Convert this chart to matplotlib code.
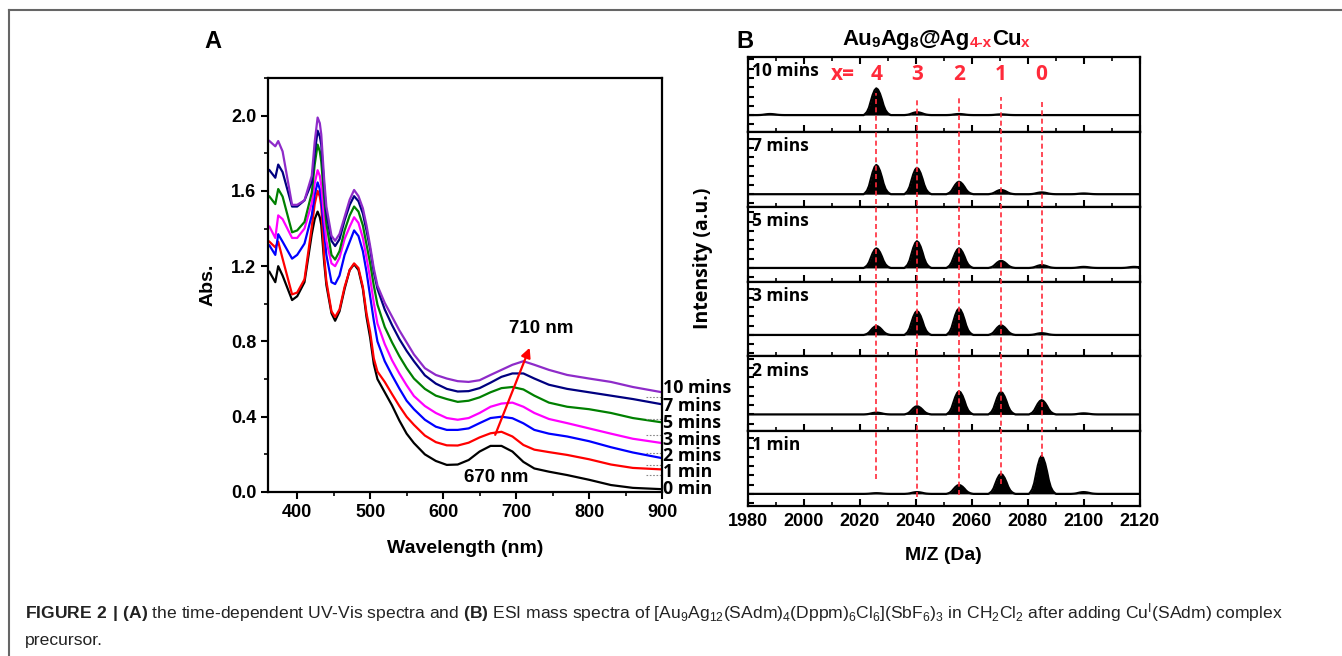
import matplotlib
matplotlib.use("Agg")
import matplotlib.pyplot as plt
from matplotlib.ticker import MultipleLocator
from matplotlib.lines import Line2D

# ---------------- panel A: UV-Vis spectra ----------------
wavelength = [362, 370, 374, 380, 393, 400, 410, 420, 424, 428, 431, 433, 437, 440, 447, 452, 458, 465,
              472, 478, 484, 490, 495, 500, 505, 510, 520, 530, 540, 550, 560, 575, 590,
              605, 620, 635, 650, 665, 680, 695, 710, 725, 745, 770, 800, 830, 860, 900]

abs_0min = [1.17, 1.115, 1.20, 1.15, 1.02, 1.04, 1.115, 1.37, 1.45, 1.49, 1.46, 1.42, 1.22, 1.10, 0.95, 0.91, 0.96, 1.08,
            1.18, 1.21, 1.18, 1.08, 0.93, 0.82, 0.68, 0.60, 0.53, 0.46, 0.38, 0.31, 0.26, 0.20, 0.165,
            0.144, 0.146, 0.17, 0.215, 0.245, 0.245, 0.215, 0.16, 0.125, 0.108, 0.09, 0.065, 0.037, 0.022, 0.015]
abs_1min = [1.33, 1.30, 1.33, 1.24, 1.05, 1.06, 1.13, 1.41, 1.53, 1.60, 1.57, 1.52, 1.25, 1.12, 0.96, 0.93, 0.97, 1.09,
            1.18, 1.215, 1.19, 1.09, 0.95, 0.85, 0.71, 0.64, 0.585, 0.52, 0.457, 0.40, 0.357, 0.30, 0.265,
            0.248, 0.247, 0.262, 0.29, 0.312, 0.32, 0.295, 0.25, 0.225, 0.212, 0.197, 0.174, 0.146, 0.128, 0.12]
abs_2min = [1.31, 1.26, 1.37, 1.33, 1.24, 1.26, 1.32, 1.47, 1.58, 1.645, 1.61, 1.55, 1.38, 1.26, 1.115, 1.105, 1.15, 1.26,
            1.33, 1.39, 1.36, 1.28, 1.17, 1.04, 0.91, 0.80, 0.695, 0.62, 0.55, 0.485, 0.44, 0.384, 0.347,
            0.33, 0.33, 0.338, 0.366, 0.393, 0.40, 0.392, 0.365, 0.33, 0.31, 0.295, 0.27, 0.238, 0.21, 0.18]
abs_3min = [1.41, 1.35, 1.47, 1.45, 1.35, 1.35, 1.40, 1.535, 1.64, 1.71, 1.68, 1.63, 1.45, 1.335, 1.215, 1.20, 1.245, 1.345,
            1.41, 1.46, 1.43, 1.35, 1.245, 1.135, 1.005, 0.895, 0.786, 0.70, 0.63, 0.567, 0.51, 0.457, 0.42,
            0.393, 0.384, 0.393, 0.42, 0.453, 0.47, 0.475, 0.453, 0.42, 0.388, 0.366, 0.338, 0.31, 0.283, 0.26]
abs_5min = [1.57, 1.53, 1.61, 1.57, 1.38, 1.39, 1.435, 1.59, 1.74, 1.846, 1.81, 1.755, 1.56, 1.426, 1.26, 1.235, 1.28, 1.39,
            1.47, 1.517, 1.49, 1.417, 1.316, 1.215, 1.097, 0.996, 0.877, 0.795, 0.722, 0.658, 0.603, 0.548, 0.512,
            0.494, 0.479, 0.485, 0.503, 0.53, 0.552, 0.558, 0.545, 0.512, 0.475, 0.453, 0.44, 0.42, 0.393, 0.37]
abs_7min = [1.71, 1.67, 1.74, 1.70, 1.517, 1.517, 1.55, 1.645, 1.80, 1.92, 1.89, 1.846, 1.62, 1.48, 1.335, 1.307, 1.343, 1.444,
            1.526, 1.572, 1.545, 1.48, 1.39, 1.29, 1.17, 1.08, 0.97, 0.887, 0.813, 0.75, 0.695, 0.62, 0.576,
            0.548, 0.534, 0.536, 0.552, 0.581, 0.612, 0.63, 0.63, 0.603, 0.57, 0.548, 0.53, 0.512, 0.494, 0.466]
abs_10min = [1.865, 1.837, 1.865, 1.81, 1.526, 1.526, 1.55, 1.68, 1.86, 1.99, 1.96, 1.90, 1.66, 1.517, 1.362, 1.335, 1.371, 1.462,
             1.554, 1.605, 1.572, 1.508, 1.417, 1.307, 1.188, 1.097, 1.005, 0.932, 0.859, 0.795, 0.731, 0.658, 0.622,
             0.603, 0.589, 0.585, 0.594, 0.622, 0.649, 0.676, 0.695, 0.676, 0.649, 0.622, 0.603, 0.585, 0.558, 0.53]

uv_series = [abs_0min, abs_1min, abs_2min, abs_3min, abs_5min, abs_7min, abs_10min]
uv_colors = ["black", "#ff0000", "#0000ff", "#ff00ff", "#008000", "#000080", "#8e2bc9"]
uv_labels = ["0 min", "1 min", "2 mins", "3 mins", "5 mins", "7 mins", "10 mins"]
uv_label_y = [0.016, 0.107, 0.192, 0.277, 0.368, 0.459, 0.555]
leader_y = [0.091, 0.144, 0.208, 0.304, 0.389, 0.507]

# ---------------- panel B: ESI-MS peaks (heights, a.u.) ----------------
ms_times = ["10 mins", "7 mins", "5 mins", "3 mins", "2 mins", "1 min"]
peak_mz = [1988, 2026, 2040.5, 2055.5, 2070.5, 2085, 2100, 2118]
ms_heights = [
    [3, 75, 8, 3, 2, 0, 0, 0],
    [0, 82, 74, 35, 12, 5, 2, 0],
    [0, 55, 75, 55, 20, 8, 3, 3],
    [0, 25, 67, 74, 27, 5, 0, 0],
    [0, 5, 23, 65, 63, 40, 3, 0],
    [0, 2, 5, 25, 56, 106, 5, 0],
]
ms_baseline = [47, 35, 38, 60, 47, 34]   # baseline height above each panel bottom
panel_span = 210
# isotope envelope shape (relative), read from the peaks
prof_dx = [-4.5, -4, -3.3, -2.6, -2, -1.3, -0.6, 0, 0.6, 1.3, 2, 2.6, 3.3, 4, 4.6, 5.2]
prof_y = [0, 0.04, 0.12, 0.28, 0.5, 0.75, 0.93, 1.0, 0.95, 0.8, 0.58, 0.36, 0.18, 0.08, 0.03, 0]

x_labels = ["4", "3", "2", "1", "0"]
x_label_mz = [2026, 2040.5, 2055.5, 2070.5, 2085]
guide_top = [0.92, 0.91, 0.91, 0.91, 0.905]
guide_bot = [0.06, 0.02, 0.025, 0.05, 0.11]

RED = "#ff2a3a"
W, H = 1342, 656
BOLD = dict(fontweight="bold")
ROUND = ["Open Sans", "DejaVu Sans"]

plt.rcParams["font.family"] = ["Liberation Sans", "DejaVu Sans"]
plt.rcParams["mathtext.fontset"] = "custom"
plt.rcParams["mathtext.rm"] = "Liberation Sans"
plt.rcParams["mathtext.bf"] = "Liberation Sans:bold"
plt.rcParams["mathtext.default"] = "rm"

fig = plt.figure(figsize=(W / 100, H / 100), dpi=100)

# outer frame
fig.add_artist(Line2D([9 / W, 1], [1 - 10 / H, 1 - 10 / H], color="#666666", lw=1.5))
fig.add_artist(Line2D([9 / W, 9 / W], [0, 1 - 10 / H], color="#666666", lw=1.5))

# ---- panel A ----
axA = fig.add_axes([268 / W, 1 - 492 / H, (662 - 268) / W, (492 - 78) / H])
for ys, c in zip(uv_series, uv_colors):
    axA.plot(wavelength, ys, color=c, lw=1.6)
axA.set_xlim(360, 900)
axA.set_ylim(0, 2.2)
axA.xaxis.set_major_locator(MultipleLocator(100))
axA.xaxis.set_minor_locator(MultipleLocator(50))
axA.yaxis.set_major_locator(MultipleLocator(0.4))
axA.yaxis.set_minor_locator(MultipleLocator(0.2))
axA.tick_params(which="major", direction="out", length=5, width=1.5, labelsize=13)
axA.tick_params(which="minor", direction="out", length=3, width=1.2)
for lab in axA.get_xticklabels() + axA.get_yticklabels():
    lab.set_fontweight("bold")
axA.yaxis.set_major_formatter(plt.FuncFormatter(lambda v, p: f"{v:.1f}"))
for s in axA.spines.values():
    s.set_linewidth(1.6)
axA.set_xlabel("Wavelength (nm)", fontsize=14, labelpad=14, **BOLD)
axA.set_ylabel("Abs.", fontsize=14, labelpad=10, **BOLD)

for lab, yv in zip(uv_labels, uv_label_y):
    axA.text(902, yv, lab, fontsize=12.8, family=ROUND, va="center",
             ha="left", clip_on=False, **BOLD)
for yv in leader_y:
    axA.plot([878, 898], [yv, yv], color="#888888", lw=0.8, ls=(0, (1.5, 1.5)))

axA.annotate("", xy=(720, 0.78), xytext=(670, 0.29),
             arrowprops=dict(arrowstyle="-|>", color="red", lw=1.6, mutation_scale=14))
axA.text(735, 0.87, "710 nm", fontsize=13.5, ha="center", va="center", **BOLD)
axA.text(673, 0.075, "670 nm", fontsize=13.5, ha="center", va="center", **BOLD)
fig.text(213 / W, 1 - 42 / H, "A", fontsize=17, ha="center", va="center", **BOLD)

# ---- panel B ----
top_px, bot_px = 57, 506
ph = (bot_px - top_px) / len(ms_times)
msaxes = []
for i, (t, hts, base) in enumerate(zip(ms_times, ms_heights, ms_baseline)):
    ax = fig.add_axes([747.5 / W, 1 - (top_px + (i + 1) * ph) / H, 392 / W, ph / H])
    xs, ys = [1980], [0]
    for mz, h in zip(peak_mz, hts):
        if h <= 0:
            continue
        for dx, py in zip(prof_dx, prof_y):
            xs.append(mz + dx)
            ys.append(h * py)
    xs.append(2120)
    ys.append(0)
    ax.fill_between(xs, ys, 0, color="black", lw=0)
    ax.plot(xs, ys, color="black", lw=1.6)
    ax.set_xlim(1980, 2120)
    ax.set_ylim(-base, panel_span - base)
    ax.xaxis.set_major_locator(MultipleLocator(20))
    ax.xaxis.set_minor_locator(MultipleLocator(10))
    ax.yaxis.set_major_locator(MultipleLocator(26))
    ax.tick_params(which="major", direction="in", length=5, width=1.5,
                   top=(i == 0), labelleft=False, labelbottom=(i == len(ms_times) - 1),
                   labelsize=13)
    ax.tick_params(which="minor", direction="in", length=3, width=1.2, top=(i == 0))
    ax.tick_params(axis="y", which="major", length=4)
    for s in ax.spines.values():
        s.set_linewidth(1.6)
    ax.text(0.012, 0.93, t, transform=ax.transAxes, fontsize=12.5, va="top", ha="left",
            family=ROUND, **BOLD)
    msaxes.append(ax)

for lab in msaxes[-1].get_xticklabels():
    lab.set_fontweight("bold")
msaxes[-1].tick_params(axis="x", pad=5)
msaxes[-1].set_xlabel("M/Z (Da)", fontsize=14, labelpad=12, **BOLD)

# overlay for red guide lines and x= labels
ov = fig.add_axes([747.5 / W, 1 - bot_px / H, 392 / W, (bot_px - top_px) / H])
ov.set_xlim(1980, 2120)
ov.set_ylim(0, 1)
ov.axis("off")
for mz, y0, y1, lab in zip(x_label_mz, guide_bot, guide_top, x_labels):
    ov.plot([mz, mz], [y0, y1], color=RED, lw=1.2, ls=(0, (3, 2)))
    ov.text(mz, 0.96, lab, color=RED, fontsize=15, ha="center", va="center",
            family=ROUND, **BOLD)
ov.text(2014, 0.96, "x=", color=RED, fontsize=15, ha="center", va="center",
        family=ROUND, **BOLD)

fig.text(703 / W, 1 - 258 / H, "Intensity (a.u.)", rotation=90, fontsize=14,
         ha="center", va="center", family=ROUND, **BOLD)
fig.text(745 / W, 1 - 42 / H, "B", fontsize=17, ha="center", va="center", **BOLD)

# title Au9Ag8@Ag(4-x)Cu(x) built from chained pieces
pieces = [("Au", "black", 16), ("9", "black", 11), ("Ag", "black", 16), ("8", "black", 11),
          ("@Ag", "black", 16), ("4-x", RED, 11), ("Cu", "black", 16), ("x", RED, 11)]
prev = fig.text(842 / W, 1 - 50 / H, pieces[0][0], color=pieces[0][1], fontsize=pieces[0][2],
                va="bottom", ha="left", **BOLD)
for txt, col, fs in pieces[1:]:
    prev = fig.add_artist(plt.Annotation(
        txt, xy=(1, 0), xycoords=prev, va="bottom", ha="left", color=col, fontsize=fs,
        annotation_clip=False, **BOLD))

# caption
fig.text(25 / W, 1 - 613 / H,
         r"$\mathbf{FIGURE\ 2\ |\ (A)}$ the time-dependent UV-Vis spectra and $\mathbf{(B)}$ ESI mass spectra of "
         r"[Au$_9$Ag$_{12}$(SAdm)$_4$(Dppm)$_6$Cl$_6$](SbF$_6$)$_3$ in CH$_2$Cl$_2$ after adding "
         r"Cu$^{\mathrm{I}}$(SAdm) complex",
         fontsize=12.6, va="center", ha="left", color="#222222")
fig.text(25 / W, 1 - 641 / H, "precursor.", fontsize=12.6, va="center",
         ha="left", color="#222222")

fig.savefig("out.png", dpi=100)
